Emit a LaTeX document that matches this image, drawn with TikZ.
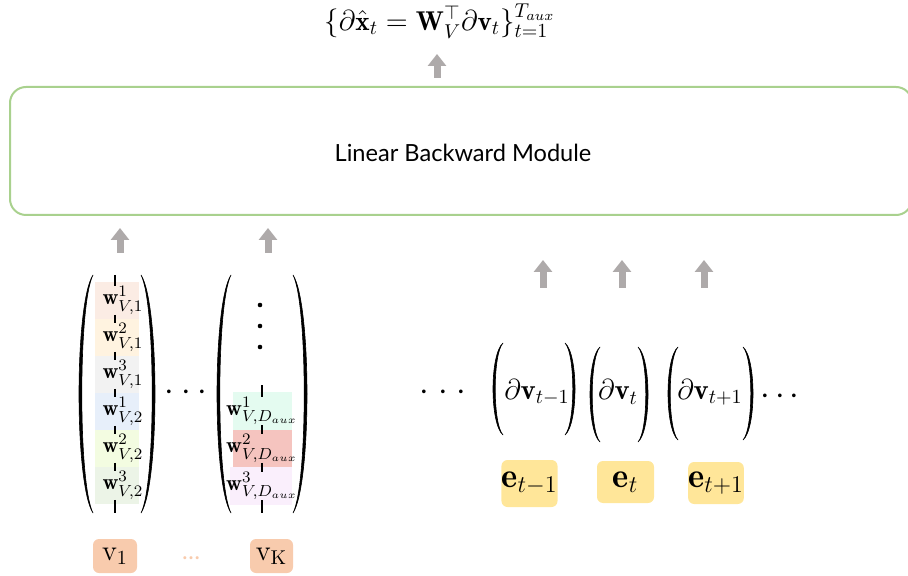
\documentclass[tikz,border=0pt]{standalone}
\usepackage{amsmath}
\usepackage{fontspec}
\newfontfamily\modfont{Lato}
\usetikzlibrary{arrows.meta}

\definecolor{modgreen}{RGB}{169,209,142}
\definecolor{arrowgray}{RGB}{174,170,170}
\definecolor{vpeach}{RGB}{248,203,173}
\definecolor{eyellow}{RGB}{255,230,153}
\definecolor{rowA}{RGB}{251,236,228}
\definecolor{rowB}{RGB}{255,243,224}
\definecolor{rowC}{RGB}{242,242,242}
\definecolor{rowD}{RGB}{231,239,250}
\definecolor{rowE}{RGB}{243,252,225}
\definecolor{rowF}{RGB}{236,244,231}
\definecolor{rowG}{RGB}{228,251,240}
\definecolor{rowH}{RGB}{245,196,191}
\definecolor{rowI}{RGB}{250,239,252}

\tikzset{
  uparrow/.style={draw=arrowgray, line width=3.5pt, -{Triangle[width=9pt,length=6pt]}},
  wentry/.style={inner sep=0pt, font=\fontsize{11}{13}\selectfont},
  colline/.style={line width=1pt},
  ebox/.style={fill=eyellow, rounded corners=3pt, inner sep=0pt, font=\LARGE},
  vbox/.style={fill=vpeach, rounded corners=3pt, inner sep=0pt, minimum height=17pt, font=\Large},
}

% paren: x of the two ends, top, bottom, bulge, thickness (px)
\newcommand{\lparen}[5]{%
  \filldraw[line width=0.3pt] (#1,#2) .. controls ({#1-#4*1.333},{#2+(#3-#2)*0.12}) and ({#1-#4*1.333},{#3-(#3-#2)*0.12}) .. (#1,#3)
    .. controls ({#1-(#4-#5)*1.333},{#3-(#3-#2)*0.12}) and ({#1-(#4-#5)*1.333},{#2+(#3-#2)*0.12}) .. cycle;}
\newcommand{\rparen}[5]{%
  \filldraw[line width=0.3pt] (#1,#2) .. controls ({#1+#4*1.333},{#2+(#3-#2)*0.12}) and ({#1+#4*1.333},{#3-(#3-#2)*0.12}) .. (#1,#3)
    .. controls ({#1+(#4-#5)*1.333},{#3-(#3-#2)*0.12}) and ({#1+(#4-#5)*1.333},{#2+(#3-#2)*0.12}) .. cycle;}
\newcommand{\dotrow}[1]{${\cdot}\hspace{#1}{\cdot}\hspace{#1}{\cdot}$}

\begin{document}
\begin{tikzpicture}[x=0.5pt, y=-0.5pt]
\useasboundingbox (0,0) rectangle (908,576);
\clip (0,0) rectangle (908,576);

% output
\node[font=\fontsize{13.6}{16}\selectfont] (out) at (440,21) {$\{\partial\hat{\mathbf{x}}_t = \mathbf{W}_V^{\top}\partial\mathbf{v}_t\}_{t=1}^{T_{aux}}$};
\coordinate (topa) at (437,78);
\coordinate (topb) at (437,54);
\draw[uparrow] (topa) -- (topb);

% module
\node[draw=modgreen, line width=1pt, rounded corners=8pt, minimum width=451pt, minimum height=64pt] (lbm) at (461,151) {};
\node[font=\modfont\fontsize{11.8}{14}\selectfont] (lbmtext) at (463,153) {Linear Backward Module};

% arrows into the module
\coordinate (wa1) at (120,253);
\coordinate (wb1) at (120,228);
\coordinate (wa2) at (268,253);
\coordinate (wb2) at (268,228);
\draw[uparrow] (wa1) -- (wb1);
\draw[uparrow] (wa2) -- (wb2);
\foreach \x [count=\i] in {543,622,704} {
  \coordinate (ua\i) at (\x,288);
  \coordinate (ub\i) at (\x,260);
  \draw[uparrow] (ua\i) -- (ub\i);
}

% first column of W_V
\foreach \c [count=\i] in {rowA,rowB,rowC,rowD,rowE,rowF}
  \fill[\c] (95,{282+37*(\i-1)}) rectangle (139,{282+37*\i});
\foreach \s/\d [count=\i] in {1/1,2/1,3/1,1/2,2/2,3/2}
  \node[wentry] (wA\i) at (123,{300.5+37*(\i-1)}) {$\mathbf{w}^{\s}_{V,\d}$};
\coordinate (lAtop) at (115,275);
\coordinate (lAbot) at (115,513);
\draw[colline] (lAtop) -- (lAtop |- wA1.north);
\foreach \i [evaluate=\i as \j using int(\i+1)] in {1,...,5}
  \draw[colline] (lAtop |- wA\i.south) -- (lAtop |- wA\j.north);
\draw[colline] (lAtop |- wA6.south) -- (lAbot);
\lparen{93}{275}{513}{14}{2.8}
\rparen{141}{275}{513}{14}{2.8}

\node[font=\LARGE] (mdots) at (186,393) {\dotrow{3.6pt}};

% last column of W_V
\fill[rowG] (233,392) rectangle (292,430);
\fill[rowH] (233,430) rectangle (292,467);
\fill[rowI] (230,467) rectangle (292,505);
\foreach \s [count=\i] in {1,2,3}
  \node[wentry] (wK\i) at (262,{411+37.5*(\i-1)}) {$\mathbf{w}^{\s}_{V,D_{aux}}$};
\coordinate (lKtop) at (262,385);
\coordinate (lKbot) at (262,513);
\draw[colline] (lKtop) -- (lKtop |- wK1.north);
\draw[colline] (lKtop |- wK1.south) -- (lKtop |- wK2.north);
\draw[colline] (lKtop |- wK2.south) -- (lKtop |- wK3.north);
\draw[colline] (lKtop |- wK3.south) -- (lKbot);
\fill (260,305) circle [radius=2.3];
\fill (260,326) circle [radius=2.3];
\fill (260,347) circle [radius=2.3];
\lparen{231}{275}{513}{14}{2.8}
\rparen{293}{275}{513}{14}{2.8}

% bottom labels
\node[vbox, minimum width=22pt] (v1) at (115,556) {$\mathrm{v}_1$};
\node[text=vpeach, font=\modfont\large] (vdots) at (191,558) {\dots};
\node[vbox, minimum width=21.5pt] (vK) at (271.5,556) {$\mathrm{v}_{\mathrm{K}}$};

% gradients
\node[font=\LARGE] (ldots) at (443,393) {\dotrow{4.5pt}};
\node[font=\Large] (dv1) at (537,392) {$\partial\mathbf{v}_{t-1}$};
\lparen{503}{343}{435}{10}{2.2}
\rparen{565}{343}{435}{10}{2.2}
\node[font=\Large] (dv2) at (618,392) {$\partial\mathbf{v}_{t}$};
\lparen{600}{347}{442}{10}{2.2}
\rparen{638}{347}{442}{10}{2.2}
\node[font=\Large] (dv3) at (710,392) {$\partial\mathbf{v}_{t+1}$};
\lparen{678}{347}{440}{10}{2.2}
\rparen{743}{347}{440}{10}{2.2}
\node[font=\LARGE] (rdots) at (780,397) {\dotrow{2.6pt}};

\node[ebox, minimum width=27.5pt, minimum height=23.5pt] (e1) at (529.5,483.5) {$\mathbf{e}_{t-1}$};
\node[ebox, minimum width=28.5pt, minimum height=21pt] (e2) at (625.5,482) {$\mathbf{e}_{t}$};
\node[ebox, minimum width=27pt, minimum height=21pt] (e3) at (716,483) {$\mathbf{e}_{t+1}$};
\end{tikzpicture}
\end{document}
